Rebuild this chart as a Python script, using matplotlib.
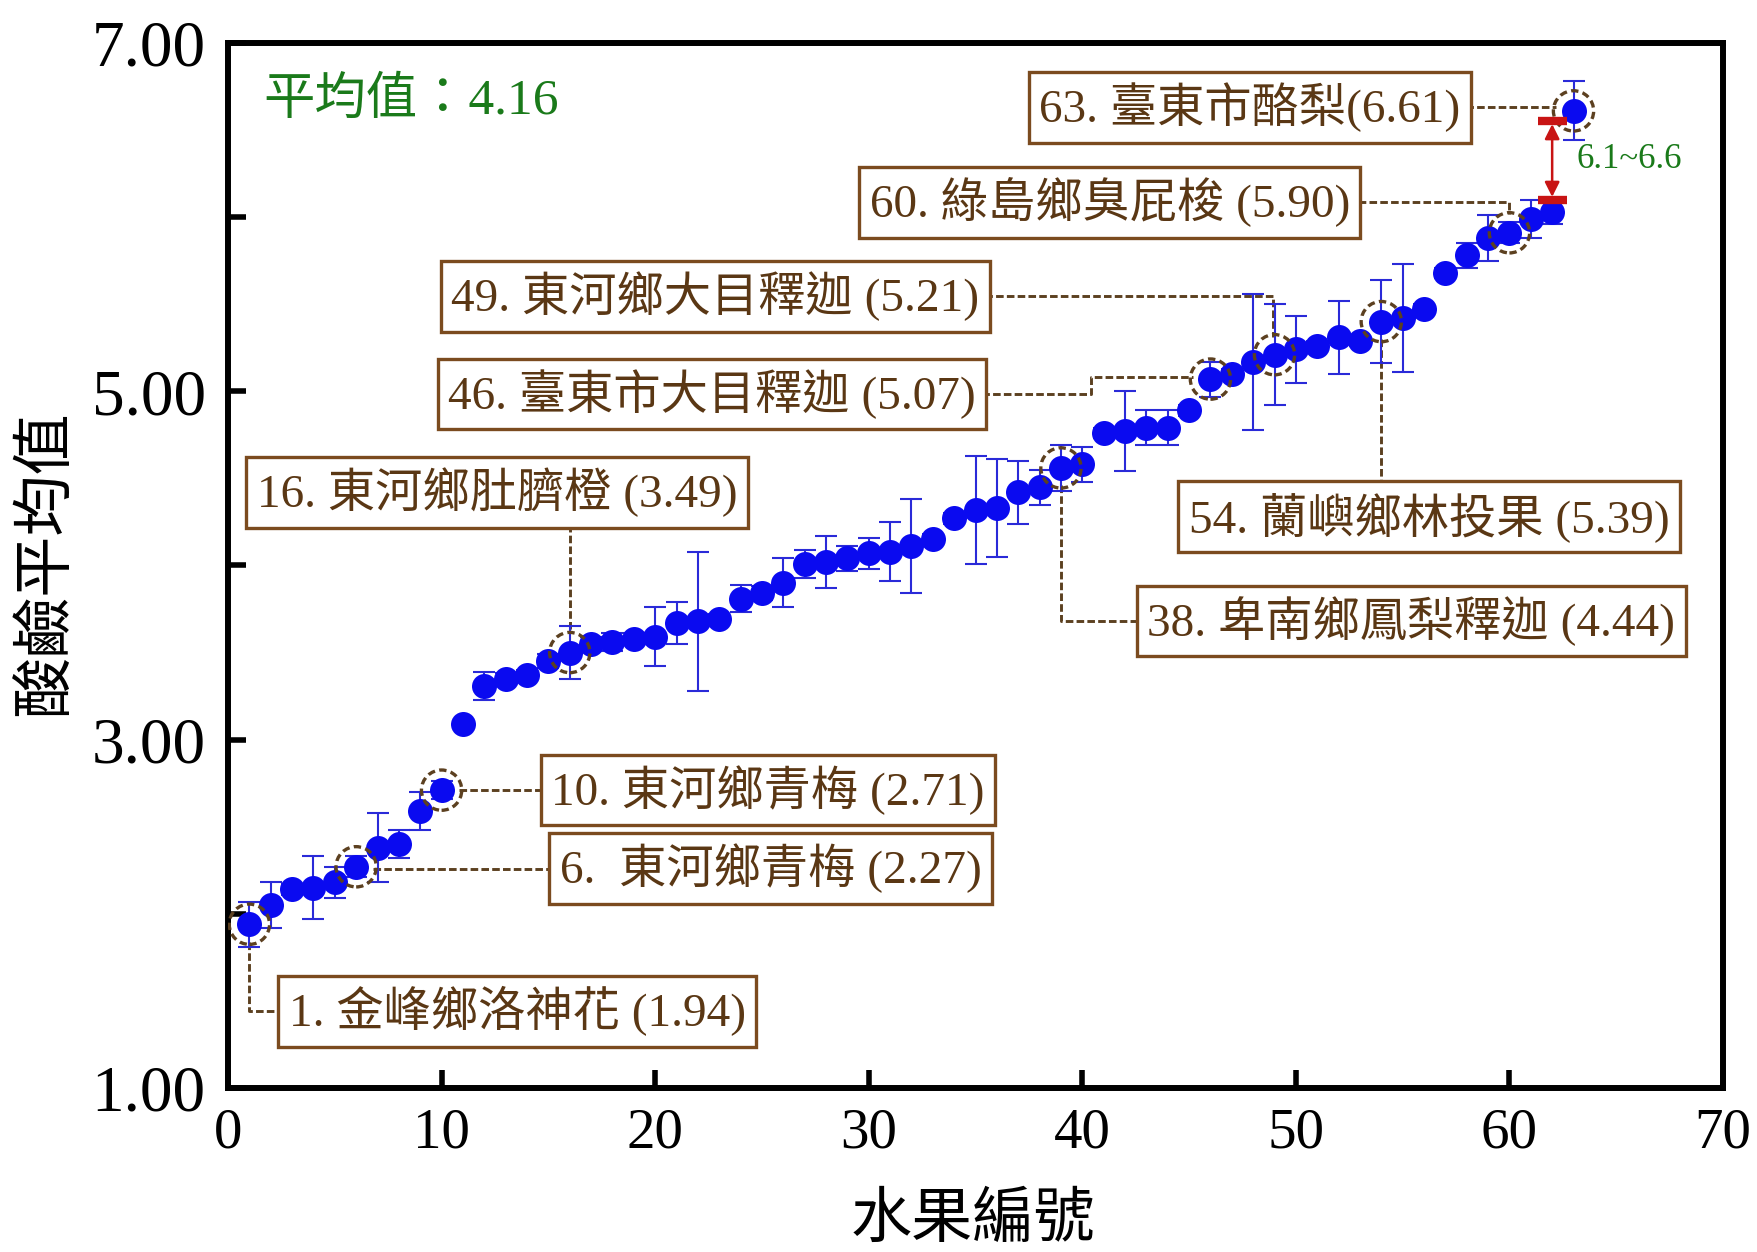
import matplotlib
matplotlib.use('Agg')
import matplotlib.pyplot as plt
from matplotlib.ticker import FixedLocator, NullFormatter

# ---------------- data ----------------
fruit_ids = list(range(1, 64))
ph_means = [1.94, 2.05, 2.14, 2.15, 2.18, 2.27, 2.38, 2.40, 2.59, 2.71,
            3.09, 3.31, 3.35, 3.37, 3.45, 3.50, 3.55, 3.56, 3.58, 3.59,
            3.67, 3.68, 3.69, 3.81, 3.84, 3.90, 4.01, 4.02, 4.04, 4.07,
            4.08, 4.11, 4.15, 4.27, 4.32, 4.33, 4.42, 4.45, 4.56, 4.58,
            4.76, 4.77, 4.79, 4.79, 4.89, 5.07, 5.10, 5.17, 5.21, 5.24,
            5.26, 5.31, 5.29, 5.40, 5.42, 5.47, 5.68, 5.78, 5.88, 5.91,
            5.99, 6.03, 6.61]
ph_errs = [0.13, 0.13, 0.03, 0.18, 0.09, 0.06, 0.20, 0.08, 0.11, 0.05,
           0.00, 0.08, 0.03, 0.03, 0.04, 0.15, 0.04, 0.05, 0.03, 0.17,
           0.12, 0.40, 0.03, 0.08, 0.04, 0.14, 0.08, 0.15, 0.07, 0.09,
           0.17, 0.27, 0.03, 0.03, 0.31, 0.28, 0.18, 0.10, 0.13, 0.10,
           0.03, 0.23, 0.10, 0.10, 0.03, 0.10, 0.03, 0.39, 0.29, 0.19,
           0.03, 0.21, 0.03, 0.24, 0.31, 0.03, 0.03, 0.07, 0.13, 0.06,
           0.11, 0.07, 0.17]
highlight_ids = [1, 6, 10, 16, 39, 46, 49, 54, 60, 63]
label_texts = ['1. 金峰鄉洛神花 (1.94)',
               '6.  東河鄉青梅 (2.27)',
               '10. 東河鄉青梅 (2.71)',
               '16. 東河鄉肚臍橙 (3.49)',
               '38. 卑南鄉鳳梨釋迦 (4.44)',
               '46. 臺東市大目釋迦 (5.07)',
               '49. 東河鄉大目釋迦 (5.21)',
               '54. 蘭嶼鄉林投果 (5.39)',
               '60. 綠島鄉臭屁梭 (5.90)',
               '63. 臺東市酪梨(6.61)']
mean_text = '平均值：4.16'
range_text = '6.1~6.6'
range_low, range_high = 6.10, 6.55
x_ticks = [0, 10, 20, 30, 40, 50, 60, 70]
y_major = [1, 3, 5, 7]
y_minor = [2, 4, 6]
x_label = '水果編號'
y_label = '酸鹼平均值'

# ---------------- style ----------------
plt.rcParams['font.family'] = ['Liberation Serif', 'Noto Sans CJK TC']
BLUE = '#0A0AF0'
EBLUE = '#2A2AD8'
BROWN_TXT = '#5A3714'
BROWN_EDGE = '#7B4B1F'
BROWN_LINE = '#5C4020'
GREEN = '#1A7A1A'
RED = '#C81414'

fig = plt.figure(figsize=(17.58, 12.52), dpi=100)
ax = fig.add_axes([0.1297, 0.131, 0.8504, 0.8347])
ax.set_xlim(0, 70)
ax.set_ylim(1, 7)

# error bars & points
ax.errorbar(fruit_ids, ph_means, yerr=ph_errs, fmt='none', ecolor=EBLUE,
            elinewidth=1.5, capsize=8, capthick=1.5, zorder=2)
ax.plot(fruit_ids, ph_means, 'o', ms=18, color=BLUE, mec='none', zorder=3)

hx = highlight_ids
hy = [ph_means[i - 1] for i in highlight_ids]
ax.scatter(hx, hy, s=29 ** 2, facecolors='none', edgecolors=BROWN_LINE,
           linewidths=2.4, linestyles=(0, (2.2, 1.3)), zorder=4)

# label boxes (center positions) and leader paths
box_centers = [(13.54, 1.44), (25.40, 2.26), (25.29, 2.71), (12.59, 4.42),
               (55.40, 3.68), (22.67, 4.985), (22.82, 5.545), (56.24, 4.28),
               (41.29, 6.085), (47.85, 6.63)]
leaders = [
    [(1, 1.84), (1, 1.44), (13.54, 1.44)],
    [(6.8, 2.26), (25.40, 2.26)],
    [(10.8, 2.71), (25.29, 2.71)],
    [(16, 4.42), (16, 3.62)],
    [(39, 4.46), (39, 3.68), (55.40, 3.68)],
    [(22.67, 4.985), (40.4, 4.985), (40.4, 5.08), (45.2, 5.08)],
    [(22.82, 5.545), (48.93, 5.545), (48.93, 5.31)],
    [(54, 5.30), (54, 4.28)],
    [(41.29, 6.085), (60, 6.085), (60, 6.02)],
    [(47.85, 6.63), (62.2, 6.63)],
]
for path in leaders:
    xs = [p[0] for p in path]
    ys = [p[1] for p in path]
    ax.plot(xs, ys, color=BROWN_LINE, lw=2.1, ls=(0, (2.6, 1.1)), zorder=1.5)

for (cx, cy), txt in zip(box_centers, label_texts):
    ax.text(cx, cy, txt, ha='center', va='center', fontsize=34, color=BROWN_TXT,
            bbox=dict(boxstyle='square,pad=0.22', fc='white', ec=BROWN_EDGE, lw=2.4),
            zorder=6)

# mean text
ax.text(1.64, 6.667, mean_text, ha='left', va='center', fontsize=37, color=GREEN, zorder=6)

# red range arrow
ax.plot([61.35, 62.7], [range_low, range_low], color=RED, lw=6, solid_capstyle='butt', zorder=7)
ax.plot([61.35, 62.7], [range_high, range_high], color=RED, lw=6, solid_capstyle='butt', zorder=7)
ax.annotate('', xy=(62.0, range_low), xytext=(62.0, range_high),
            arrowprops=dict(arrowstyle='<|-|>', color=RED, lw=1.8, mutation_scale=22,
                            shrinkA=2, shrinkB=2), zorder=7)
ax.text(63.16, 6.33, range_text, ha='left', va='center', fontsize=25, color=GREEN, zorder=6)

# axes styling
for sp in ax.spines.values():
    sp.set_linewidth(4.3)
    sp.set_color('black')
ax.xaxis.set_major_locator(FixedLocator(x_ticks))
ax.yaxis.set_major_locator(FixedLocator(y_major))
ax.yaxis.set_minor_locator(FixedLocator(y_minor))
ax.yaxis.set_minor_formatter(NullFormatter())
ax.set_yticklabels(['%.2f' % v for v in y_major])
ax.set_xticklabels([str(v) for v in x_ticks])
ax.tick_params(axis='both', which='both', direction='in', length=13, width=4,
               top=False, right=False)
ax.tick_params(axis='x', which='both', pad=14, labelsize=41)
ax.tick_params(axis='y', which='both', pad=16, labelsize=47)

ax.text(0.498, -0.128, x_label, transform=ax.transAxes, ha='center', va='center',
        fontsize=44, color='black')
ax.text(-0.121, 0.502, y_label, transform=ax.transAxes, ha='center', va='center',
        rotation=90, fontsize=44, color='black')

fig.savefig('out.png', dpi=100, facecolor='white')
